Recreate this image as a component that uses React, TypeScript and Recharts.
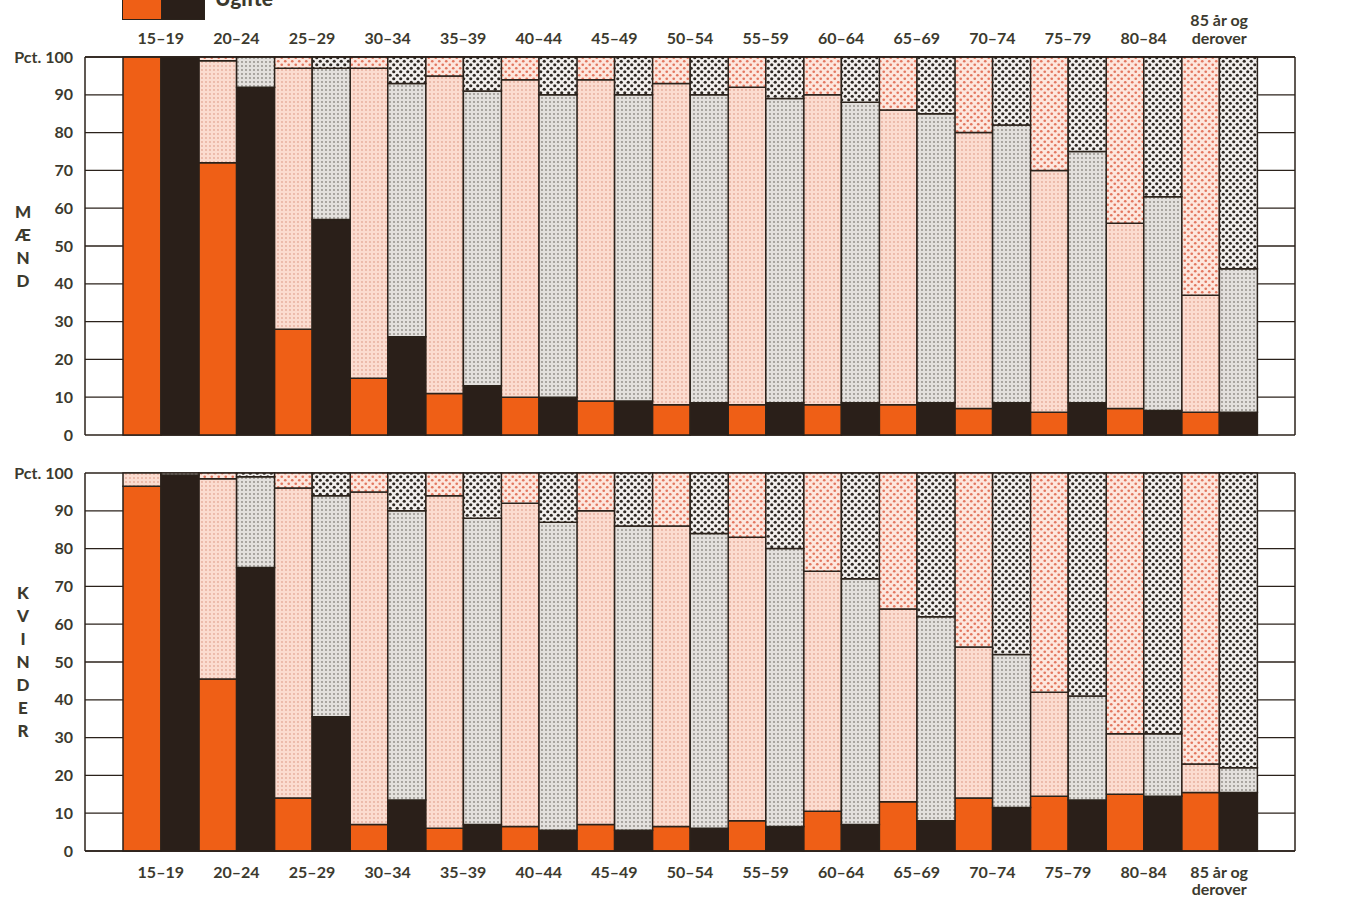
import React from 'react';
import { BarChart, Bar, XAxis, YAxis, CartesianGrid } from 'recharts';

const ages = ['15–19', '20–24', '25–29', '30–34', '35–39', '40–44', '45–49', '50–54', '55–59', '60–64', '65–69', '70–74', '75–79', '80–84', '85 år og derover'];
const yTicks = [0, 10, 20, 30, 40, 50, 60, 70, 80, 90, 100];

// Mænd – orange (first) bars
const menA_ugifte = [100, 72, 28, 15, 11, 10, 9, 8, 8, 8, 8, 7, 6, 7, 6];
const menA_gifte = [0, 27, 69, 82, 84, 84, 85, 85, 84, 82, 78, 73, 64, 49, 31];
const menA_enke = [0, 1, 3, 3, 5, 6, 6, 7, 8, 10, 14, 20, 30, 44, 63];
// Mænd – black (second) bars
const menB_ugifte = [100, 92, 57, 26, 13, 10, 9, 8.5, 8.5, 8.5, 8.5, 8.5, 8.5, 6.5, 6];
const menB_gifte = [0, 8, 40, 67, 78, 80, 81, 81.5, 80.5, 79.5, 76.5, 73.5, 66.5, 56.5, 38];
const menB_enke = [0, 0, 3, 7, 9, 10, 10, 10, 11, 12, 15, 18, 25, 37, 56];

// Kvinder – orange (first) bars
const womA_ugifte = [96.5, 45.5, 14, 7, 6, 6.5, 7, 6.5, 8, 10.5, 13, 14, 14.5, 15, 15.5];
const womA_gifte = [3.5, 53, 82, 88, 88, 85.5, 83, 79.5, 75, 63.5, 51, 40, 27.5, 16, 7.5];
const womA_enke = [0, 1.5, 4, 5, 6, 8, 10, 14, 17, 26, 36, 46, 58, 69, 77];
// Kvinder – black (second) bars
const womB_ugifte = [99.5, 75, 35.5, 13.5, 7, 5.5, 5.5, 6, 6.5, 7, 8, 11.5, 13.5, 14.5, 15.5];
const womB_gifte = [0.5, 24, 58.5, 76.5, 81, 81.5, 80.5, 78, 73.5, 65, 54, 40.5, 27.5, 16.5, 6.5];
const womB_enke = [0, 1, 6, 10, 12, 13, 14, 16, 20, 28, 38, 48, 59, 69, 78];

const menData = ages.map((age, i) => ({
  age,
  aU: menA_ugifte[i], aG: menA_gifte[i], aE: menA_enke[i],
  bU: menB_ugifte[i], bG: menB_gifte[i], bE: menB_enke[i],
}));
const womData = ages.map((age, i) => ({
  age,
  aU: womA_ugifte[i], aG: womA_gifte[i], aE: womA_enke[i],
  bU: womB_ugifte[i], bG: womB_gifte[i], bE: womB_enke[i],
}));

const TEXT = '#3c3a2e';
const LINE = '#2b221b';
const ORANGE = '#ef5f16';
const BLACK = '#2a1f19';
const FONT = 'Lato, "Open Sans", sans-serif';

const Patterns = ({ p }: { p: string }) => (
  <defs>
    <pattern id={`${p}-og`} width="4" height="4" patternUnits="userSpaceOnUse">
      <rect width="4" height="4" fill="#fbdcd0" />
      <circle cx="2" cy="2" r="0.9" fill="#e6ac9a" />
    </pattern>
    <pattern id={`${p}-oe`} width="7" height="7" patternUnits="userSpaceOnUse">
      <rect width="7" height="7" fill="#fde7de" />
      <circle cx="1.75" cy="1.75" r="1.35" fill="#e3775f" />
      <circle cx="5.25" cy="5.25" r="1.35" fill="#e3775f" />
    </pattern>
    <pattern id={`${p}-bg`} width="4" height="4" patternUnits="userSpaceOnUse">
      <rect width="4" height="4" fill="#e3e0dd" />
      <circle cx="2" cy="2" r="0.9" fill="#8e8984" />
    </pattern>
    <pattern id={`${p}-be`} width="7" height="7" patternUnits="userSpaceOnUse">
      <rect width="7" height="7" fill="#f2efed" />
      <circle cx="1.75" cy="1.75" r="1.6" fill="#2f2924" />
      <circle cx="5.25" cy="5.25" r="1.6" fill="#2f2924" />
    </pattern>
  </defs>
);

const makeXTick = (top: boolean) => (props: any) => {
  const { x, y, payload } = props;
  const v: string = payload.value;
  const lines = v.includes(' og ') ? ['85 år og', 'derover'] : [v];
  const common = { textAnchor: 'middle' as const, fill: TEXT, fontSize: 16, fontWeight: 700, fontFamily: FONT };
  if (top) {
    return (
      <g>
        {lines.map((l, i) => (
          <text key={i} x={x} y={y - 11 - (lines.length - 1 - i) * 18} {...common}>{l}</text>
        ))}
      </g>
    );
  }
  return (
    <g>
      {lines.map((l, i) => (
        <text key={i} x={x} y={y + 25 + i * 17} {...common}>{l}</text>
      ))}
    </g>
  );
};

const tickStyle = { fill: TEXT, fontSize: 16, fontWeight: 700, fontFamily: FONT };

const Panel = ({ data, p, top }: { data: any[]; p: string; top: boolean }) => (
  <BarChart
    width={1368}
    height={top ? 450 : 457}
    data={data}
    margin={top ? { top: 27, right: 8, bottom: 15, left: 8 } : { top: 33, right: 8, bottom: 16, left: 8 }}
    barCategoryGap={0}
    barGap={0}
  >
    <Patterns p={p} />
    <CartesianGrid yAxisId="l" vertical={false} stroke={LINE} strokeWidth={1.3} />
    <XAxis
      dataKey="age"
      orientation={top ? 'top' : 'bottom'}
      height={30}
      padding={{ left: 38, right: 38 }}
      tickLine={false}
      tickSize={0}
      axisLine={{ stroke: LINE, strokeWidth: 1.5 }}
      tick={makeXTick(top)}
      interval={0}
    />
    <YAxis
      yAxisId="l"
      type="number"
      domain={[0, 100]}
      ticks={yTicks}
      width={77}
      tickLine={false}
      tickSize={0}
      tickMargin={12}
      axisLine={{ stroke: LINE, strokeWidth: 1.5 }}
      tick={tickStyle}
      tickFormatter={(v: number) => (v === 100 ? 'Pct. 100' : String(v))}
    />
    <YAxis
      yAxisId="r"
      orientation="right"
      type="number"
      domain={[0, 100]}
      ticks={yTicks}
      width={65}
      tickLine={false}
      tickSize={0}
      tickMargin={10}
      axisLine={{ stroke: LINE, strokeWidth: 1.5 }}
      tick={tickStyle}
      tickFormatter={(v: number) => (v === 100 ? '100 pct.' : String(v))}
    />
    <Bar yAxisId="l" dataKey="aU" stackId="a" fill={ORANGE} stroke={LINE} strokeWidth={1.5} isAnimationActive={false} />
    <Bar yAxisId="l" dataKey="aG" stackId="a" fill={`url(#${p}-og)`} stroke={LINE} strokeWidth={1.5} isAnimationActive={false} />
    <Bar yAxisId="l" dataKey="aE" stackId="a" fill={`url(#${p}-oe)`} stroke={LINE} strokeWidth={1.5} isAnimationActive={false} />
    <Bar yAxisId="l" dataKey="bU" stackId="b" fill={BLACK} stroke={LINE} strokeWidth={1.5} isAnimationActive={false} />
    <Bar yAxisId="l" dataKey="bG" stackId="b" fill={`url(#${p}-bg)`} stroke={LINE} strokeWidth={1.5} isAnimationActive={false} />
    <Bar yAxisId="l" dataKey="bE" stackId="b" fill={`url(#${p}-be)`} stroke={LINE} strokeWidth={1.5} isAnimationActive={false} />
  </BarChart>
);

const VLabel = ({ text, top }: { text: string; top: number }) => (
  <div style={{ position: 'absolute', left: 12, top, width: 22, textAlign: 'center', fontFamily: FONT, fontWeight: 900, fontSize: 17, color: TEXT, lineHeight: '23px' }}>
    {text.split('').map((c, i) => (
      <div key={i}>{c}</div>
    ))}
  </div>
);

export default function App() {
  return (
    <div style={{ position: 'absolute', left: 0, top: 0, width: 1368, height: 897, background: '#fff', overflow: 'hidden' }}>
      {/* Legend (cropped at the top like the reference) */}
      <div style={{ position: 'absolute', left: 122, top: -20, width: 40, height: 40, background: ORANGE, border: `1.5px solid ${LINE}`, boxSizing: 'border-box' }} />
      <div style={{ position: 'absolute', left: 161, top: -20, width: 44, height: 40, background: BLACK, border: `1.5px solid ${LINE}`, boxSizing: 'border-box' }} />
      <div style={{ position: 'absolute', left: 215, top: -14, fontFamily: FONT, fontWeight: 900, fontSize: 21, color: TEXT, lineHeight: '24px' }}>Ugifte</div>

      <div style={{ position: 'absolute', left: 0, top: 0 }}>
        <Panel data={menData} p="m" top={true} />
      </div>
      <div style={{ position: 'absolute', left: 0, top: 440 }}>
        <Panel data={womData} p="w" top={false} />
      </div>
      <VLabel text="MÆND" top={200} />
      <VLabel text="KVINDER" top={581} />
    </div>
  );
}
